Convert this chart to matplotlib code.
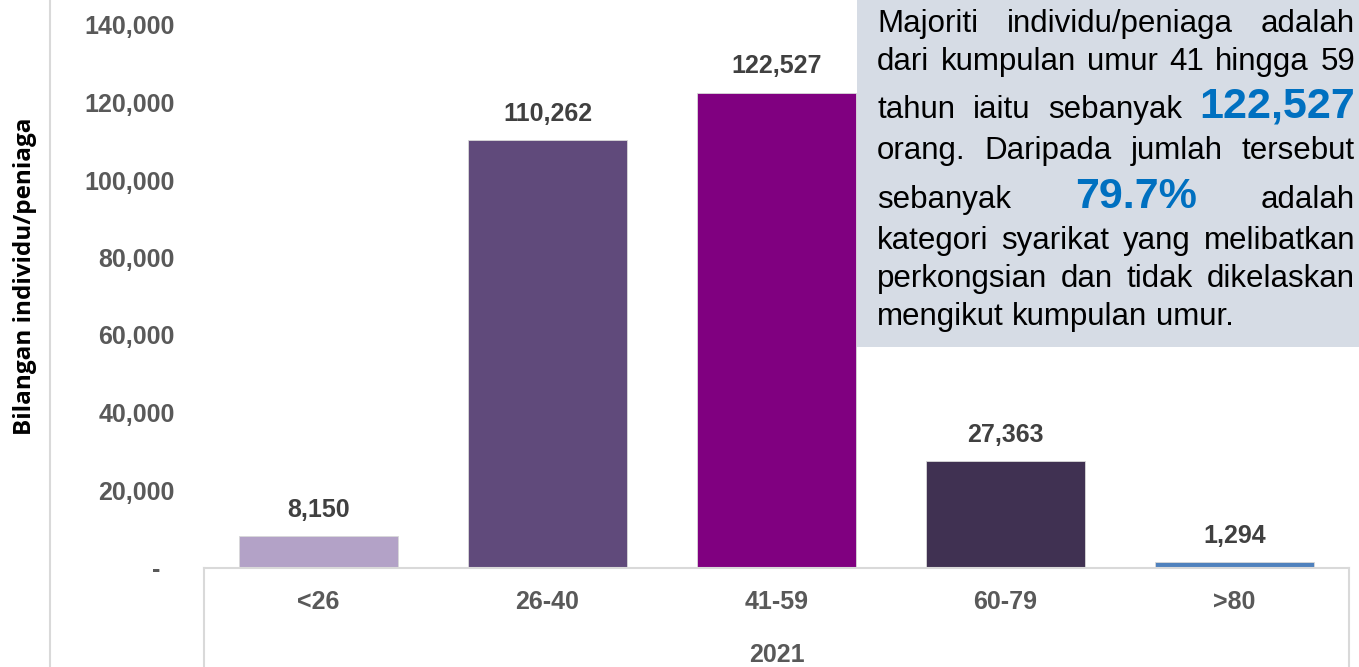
import matplotlib.pyplot as plt
from matplotlib.lines import Line2D
from matplotlib.patches import Rectangle

# data
categories = ["<26", "26-40", "41-59", "60-79", ">80"]
values = [8150, 110262, 122527, 27363, 1294]
bar_colors = ["#b3a2c7", "#604a7b", "#800080", "#403152", "#4f81bd"]
yticks = [0, 20000, 40000, 60000, 80000, 100000, 120000, 140000]
ytick_labels = ["-  ", "20,000", "40,000", "60,000", "80,000", "100,000", "120,000", "140,000"]
year_label = "2021"

W, H = 1359, 667
fig = plt.figure(figsize=(W / 100, H / 100), dpi=100)
plt.rcParams['font.family'] = ['Liberation Sans', 'DejaVu Sans']

ax = fig.add_axes([204 / W, 1 - 567.5 / H, 1145 / W, 542.5 / H])
x = range(len(categories))
ax.bar(x, values, width=0.69, color=bar_colors, edgecolor="#d9d9d9", linewidth=0.6, zorder=2)
ax.set_xlim(-0.5, len(categories) - 0.5)
ax.set_ylim(0, 140000)

ax.set_yticks(yticks)
ax.set_yticklabels(ytick_labels, fontsize=18, fontweight="bold", color="#595959")
ax.set_xticks(list(x))
ax.set_xticklabels(categories, fontsize=18, fontweight="bold", color="#595959")
ax.tick_params(axis="y", length=0, pad=21)
ax.tick_params(axis="x", length=0, pad=16)

for s in ["top", "right", "left"]:
    ax.spines[s].set_visible(False)
ax.spines["bottom"].set_color("#d9d9d9")
ax.spines["bottom"].set_linewidth(1.5)

# value labels
for i, v in enumerate(values):
    ax.annotate(f"{v:,}", (i, v), xytext=(0, 19), textcoords="offset points",
                ha="center", va="center", fontsize=18, fontweight="bold", color="#404040")

# category group box lines (below axis)
for xa in [0, 1]:
    ax.add_line(Line2D([xa, xa], [0, -0.2], transform=ax.transAxes, color="#d9d9d9",
                       lw=1.5, clip_on=False))
ax.text(0.5, -0.162, year_label, transform=ax.transAxes, ha="center", va="center",
        fontsize=18, fontweight="bold", color="#595959")

# chart border at left
fig.add_artist(Line2D([50 / W, 50 / W], [0, 1], color="#d9d9d9", lw=1.5))

fig.text(25 / W, 1 - 276 / H, "Bilangan individu/peniaga", rotation=90, ha="center",
         va="center", fontsize=17.5, fontweight="bold", family=["Open Sans", "DejaVu Sans"])

# annotation box
fig.add_artist(Rectangle((857 / W, 1 - 347 / H), (W - 857) / W, 347 / H,
                         transform=fig.transFigure, facecolor="#d6dce5", edgecolor="none", zorder=5))

blue = "#0070c0"
lines = [
    ([("Majoriti", 0), ("individu/peniaga", 0), ("adalah", 0)], 32, True),
    ([("dari", 0), ("kumpulan", 0), ("umur", 0), ("41", 0), ("hingga", 0), ("59", 0)], 70, True),
    ([("tahun", 0), ("iaitu", 0), ("sebanyak", 0), ("122,527", 1)], 118, True),
    ([("orang.", 0), ("Daripada", 0), ("jumlah", 0), ("tersebut", 0)], 159, True),
    ([("sebanyak", 0), ("79.7%", 1), ("adalah", 0)], 208, True),
    ([("kategori", 0), ("syarikat", 0), ("yang", 0), ("melibatkan", 0)], 249, True),
    ([("perkongsian", 0), ("dan", 0), ("tidak", 0), ("dikelaskan", 0)], 287, True),
    ([("mengikut", 0), ("kumpulan", 0), ("umur.", 0)], 325, False),
]
body_size = 22.5
left, right = 877, 1355
renderer = fig.canvas.get_renderer()
t1 = fig.text(0, 0, "a a", fontsize=body_size)
t2 = fig.text(0, 0, "aa", fontsize=body_size)
space = t1.get_window_extent(renderer).width - t2.get_window_extent(renderer).width
t1.remove()
t2.remove()
for words, base, justify in lines:
    texts = []
    for w, big in words:
        kw = dict(fontsize=31, fontweight="bold", color=blue) if big else dict(fontsize=body_size, color="black")
        t = fig.text(0, 1 - base / H, w, va="baseline", ha="left", zorder=6, **kw)
        texts.append(t)
    widths = [t.get_window_extent(renderer).width for t in texts]
    if justify and len(texts) > 1:
        gap = (right - left - sum(widths)) / (len(texts) - 1)
    else:
        gap = space
    xp = left
    for t, wd in zip(texts, widths):
        t.set_x(xp / W)
        xp += wd + gap

fig.savefig("out.png", dpi=100)
